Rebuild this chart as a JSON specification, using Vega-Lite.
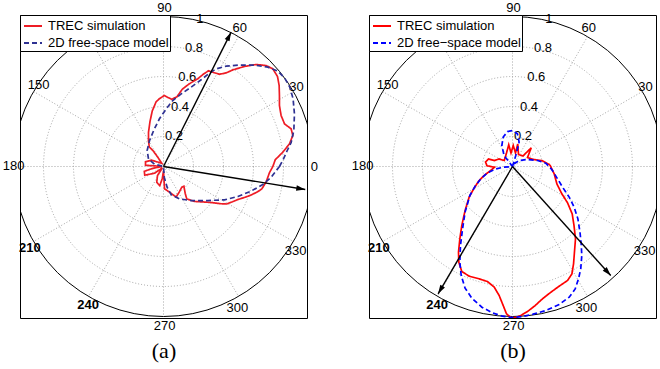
{
"$schema": "https://vega.github.io/schema/vega-lite/v6.json",
"padding": {"left": 2, "top": 1, "right": 5, "bottom": 5},
"background": "white",
"bounds": "flush",
"spacing": 62,
"config": {
  "view": {"stroke": "black", "strokeWidth": 1},
  "font": "Liberation Sans",
  "axisX": {"domain": false, "ticks": false, "labels": false, "grid": false, "titleFont": "Liberation Serif", "titleFontSize": 22, "titleFontWeight": "normal", "titlePadding": 22, "titleColor": "black"},
  "legend": {"orient": "top-left", "offset": 0, "padding": 1, "symbolOffset": 2, "fillColor": "white", "strokeColor": "black", "labelFont": "Liberation Sans", "labelFontSize": 13, "labelColor": "black", "symbolType": "stroke", "symbolSize": 324, "symbolStrokeWidth": 1.8, "rowPadding": -1, "labelOffset": 5}
},
"datasets": {
  "rings": [{"r": 0.2, "cx": 0, "cy": 0}, {"r": 0.4, "cx": 0, "cy": 0}, {"r": 0.6, "cx": 0, "cy": 0}, {"r": 0.8, "cx": 0, "cy": 0}, {"r": 1, "cx": 0, "cy": 0}],
  "spokes": [
    {"x": 1, "y": 0, "x2": -1, "y2": 0},
    {"x": 0.866, "y": 0.5, "x2": -0.866, "y2": -0.5},
    {"x": 0.5, "y": 0.866, "x2": -0.5, "y2": -0.866},
    {"x": 0, "y": 1, "x2": 0, "y2": -1},
    {"x": -0.5, "y": 0.866, "x2": 0.5, "y2": -0.866},
    {"x": -0.866, "y": 0.5, "x2": 0.866, "y2": -0.5}
  ],
  "alabels": [
    {"t": "0", "x": 1.005, "y": 0.0},
    {"t": "30", "x": 0.887, "y": 0.532},
    {"t": "60", "x": 0.509, "y": 0.923},
    {"t": "90", "x": 0.007, "y": 1.055},
    {"t": "150", "x": -0.833, "y": 0.545},
    {"t": "180", "x": -0.999, "y": 0.005},
    {"t": "210", "x": -0.891, "y": -0.541},
    {"t": "240", "x": -0.502, "y": -0.922},
    {"t": "270", "x": 0.007, "y": -1.06},
    {"t": "300", "x": 0.492, "y": -0.941},
    {"t": "330", "x": 0.881, "y": -0.564}
  ],
  "rlabels": [
    {"t": "0.2", "x": 0.07, "y": 0.205},
    {"t": "0.4", "x": 0.11, "y": 0.4},
    {"t": "0.6", "x": 0.158, "y": 0.596},
    {"t": "0.8", "x": 0.203, "y": 0.792},
    {"t": "1", "x": 0.242, "y": 0.985}
  ],
  "arrowsA": [
    {"ang": 63.3, "x0": 0, "y0": 0, "x": 0.451, "y": 0.896, "hx": 0.4375, "hy": 0.869},
    {"ang": -9.2, "x0": 0, "y0": 0, "x": 0.945, "y": -0.153, "hx": 0.9154, "hy": -0.1482}
  ],
  "arrowsB": [
    {"ang": 239.7, "x0": 0, "y0": 0, "x": -0.496, "y": -0.849, "hx": -0.4809, "hy": -0.8231},
    {"ang": 312, "x0": 0, "y0": 0, "x": 0.655, "y": -0.727, "hx": 0.6349, "hy": -0.7047}
  ],
  "curvesA": [
    {"s": "TREC simulation", "i": 0, "x": 0.729, "y": 0.0},
    {"s": "TREC simulation", "i": 1, "x": 0.745, "y": 0.045},
    {"s": "TREC simulation", "i": 2, "x": 0.796, "y": 0.096},
    {"s": "TREC simulation", "i": 3, "x": 0.84, "y": 0.151},
    {"s": "TREC simulation", "i": 4, "x": 0.862, "y": 0.207},
    {"s": "TREC simulation", "i": 5, "x": 0.851, "y": 0.251},
    {"s": "TREC simulation", "i": 6, "x": 0.807, "y": 0.284},
    {"s": "TREC simulation", "i": 7, "x": 0.784, "y": 0.34},
    {"s": "TREC simulation", "i": 8, "x": 0.773, "y": 0.407},
    {"s": "TREC simulation", "i": 9, "x": 0.773, "y": 0.47},
    {"s": "TREC simulation", "i": 10, "x": 0.771, "y": 0.54},
    {"s": "TREC simulation", "i": 11, "x": 0.76, "y": 0.6},
    {"s": "TREC simulation", "i": 12, "x": 0.729, "y": 0.651},
    {"s": "TREC simulation", "i": 13, "x": 0.684, "y": 0.673},
    {"s": "TREC simulation", "i": 14, "x": 0.618, "y": 0.68},
    {"s": "TREC simulation", "i": 15, "x": 0.54, "y": 0.667},
    {"s": "TREC simulation", "i": 16, "x": 0.462, "y": 0.644},
    {"s": "TREC simulation", "i": 17, "x": 0.418, "y": 0.624},
    {"s": "TREC simulation", "i": 18, "x": 0.373, "y": 0.615},
    {"s": "TREC simulation", "i": 19, "x": 0.33, "y": 0.628},
    {"s": "TREC simulation", "i": 20, "x": 0.3, "y": 0.638},
    {"s": "TREC simulation", "i": 21, "x": 0.265, "y": 0.615},
    {"s": "TREC simulation", "i": 22, "x": 0.229, "y": 0.585},
    {"s": "TREC simulation", "i": 23, "x": 0.17, "y": 0.55},
    {"s": "TREC simulation", "i": 24, "x": 0.125, "y": 0.515},
    {"s": "TREC simulation", "i": 25, "x": 0.09, "y": 0.465},
    {"s": "TREC simulation", "i": 26, "x": 0.055, "y": 0.448},
    {"s": "TREC simulation", "i": 27, "x": 0.02, "y": 0.465},
    {"s": "TREC simulation", "i": 28, "x": 0.005, "y": 0.473},
    {"s": "TREC simulation", "i": 29, "x": -0.03, "y": 0.45},
    {"s": "TREC simulation", "i": 30, "x": -0.05, "y": 0.43},
    {"s": "TREC simulation", "i": 31, "x": -0.075, "y": 0.37},
    {"s": "TREC simulation", "i": 32, "x": -0.09, "y": 0.3},
    {"s": "TREC simulation", "i": 33, "x": -0.1, "y": 0.229},
    {"s": "TREC simulation", "i": 34, "x": -0.1, "y": 0.173},
    {"s": "TREC simulation", "i": 35, "x": -0.095, "y": 0.13},
    {"s": "TREC simulation", "i": 36, "x": -0.071, "y": 0.107},
    {"s": "TREC simulation", "i": 37, "x": -0.038, "y": 0.062},
    {"s": "TREC simulation", "i": 38, "x": -0.012, "y": 0.022},
    {"s": "TREC simulation", "i": 39, "x": -0.08, "y": 0.042},
    {"s": "TREC simulation", "i": 40, "x": -0.12, "y": 0.032},
    {"s": "TREC simulation", "i": 41, "x": -0.12, "y": 0.008},
    {"s": "TREC simulation", "i": 42, "x": -0.07, "y": 0.005},
    {"s": "TREC simulation", "i": 43, "x": -0.01, "y": 0.0},
    {"s": "TREC simulation", "i": 44, "x": -0.07, "y": -0.012},
    {"s": "TREC simulation", "i": 45, "x": -0.128, "y": -0.032},
    {"s": "TREC simulation", "i": 46, "x": -0.125, "y": -0.058},
    {"s": "TREC simulation", "i": 47, "x": -0.06, "y": -0.045},
    {"s": "TREC simulation", "i": 48, "x": -0.008, "y": -0.01},
    {"s": "TREC simulation", "i": 49, "x": -0.04, "y": -0.06},
    {"s": "TREC simulation", "i": 50, "x": -0.045, "y": -0.105},
    {"s": "TREC simulation", "i": 51, "x": -0.025, "y": -0.128},
    {"s": "TREC simulation", "i": 52, "x": -0.008, "y": -0.08},
    {"s": "TREC simulation", "i": 53, "x": 0.0, "y": -0.03},
    {"s": "TREC simulation", "i": 54, "x": 0.004, "y": -0.1},
    {"s": "TREC simulation", "i": 55, "x": 0.007, "y": -0.149},
    {"s": "TREC simulation", "i": 56, "x": 0.04, "y": -0.171},
    {"s": "TREC simulation", "i": 57, "x": 0.084, "y": -0.204},
    {"s": "TREC simulation", "i": 58, "x": 0.105, "y": -0.17},
    {"s": "TREC simulation", "i": 59, "x": 0.122, "y": -0.138},
    {"s": "TREC simulation", "i": 60, "x": 0.136, "y": -0.131},
    {"s": "TREC simulation", "i": 61, "x": 0.145, "y": -0.18},
    {"s": "TREC simulation", "i": 62, "x": 0.155, "y": -0.216},
    {"s": "TREC simulation", "i": 63, "x": 0.207, "y": -0.233},
    {"s": "TREC simulation", "i": 64, "x": 0.26, "y": -0.236},
    {"s": "TREC simulation", "i": 65, "x": 0.318, "y": -0.24},
    {"s": "TREC simulation", "i": 66, "x": 0.38, "y": -0.248},
    {"s": "TREC simulation", "i": 67, "x": 0.42, "y": -0.25},
    {"s": "TREC simulation", "i": 68, "x": 0.46, "y": -0.235},
    {"s": "TREC simulation", "i": 69, "x": 0.496, "y": -0.22},
    {"s": "TREC simulation", "i": 70, "x": 0.545, "y": -0.205},
    {"s": "TREC simulation", "i": 71, "x": 0.584, "y": -0.19},
    {"s": "TREC simulation", "i": 72, "x": 0.625, "y": -0.17},
    {"s": "TREC simulation", "i": 73, "x": 0.655, "y": -0.15},
    {"s": "TREC simulation", "i": 74, "x": 0.684, "y": -0.104},
    {"s": "TREC simulation", "i": 75, "x": 0.707, "y": -0.04},
    {"s": "TREC simulation", "i": 76, "x": 0.729, "y": 0.0},
    {"s": "2D free-space model", "i": 0, "x": 0.773, "y": 0.0},
    {"s": "2D free-space model", "i": 1, "x": 0.8, "y": 0.05},
    {"s": "2D free-space model", "i": 2, "x": 0.822, "y": 0.1},
    {"s": "2D free-space model", "i": 3, "x": 0.851, "y": 0.16},
    {"s": "2D free-space model", "i": 4, "x": 0.869, "y": 0.24},
    {"s": "2D free-space model", "i": 5, "x": 0.873, "y": 0.351},
    {"s": "2D free-space model", "i": 6, "x": 0.864, "y": 0.451},
    {"s": "2D free-space model", "i": 7, "x": 0.842, "y": 0.529},
    {"s": "2D free-space model", "i": 8, "x": 0.807, "y": 0.591},
    {"s": "2D free-space model", "i": 9, "x": 0.762, "y": 0.636},
    {"s": "2D free-space model", "i": 10, "x": 0.696, "y": 0.662},
    {"s": "2D free-space model", "i": 11, "x": 0.607, "y": 0.676},
    {"s": "2D free-space model", "i": 12, "x": 0.496, "y": 0.676},
    {"s": "2D free-space model", "i": 13, "x": 0.418, "y": 0.669},
    {"s": "2D free-space model", "i": 14, "x": 0.351, "y": 0.651},
    {"s": "2D free-space model", "i": 15, "x": 0.3, "y": 0.618},
    {"s": "2D free-space model", "i": 16, "x": 0.251, "y": 0.578},
    {"s": "2D free-space model", "i": 17, "x": 0.184, "y": 0.529},
    {"s": "2D free-space model", "i": 18, "x": 0.118, "y": 0.484},
    {"s": "2D free-space model", "i": 19, "x": 0.062, "y": 0.44},
    {"s": "2D free-space model", "i": 20, "x": 0.018, "y": 0.384},
    {"s": "2D free-space model", "i": 21, "x": -0.027, "y": 0.318},
    {"s": "2D free-space model", "i": 22, "x": -0.064, "y": 0.244},
    {"s": "2D free-space model", "i": 23, "x": -0.093, "y": 0.173},
    {"s": "2D free-space model", "i": 24, "x": -0.109, "y": 0.107},
    {"s": "2D free-space model", "i": 25, "x": -0.1, "y": 0.051},
    {"s": "2D free-space model", "i": 26, "x": -0.06, "y": 0.015},
    {"s": "2D free-space model", "i": 27, "x": 0.0, "y": 0.0},
    {"s": "2D free-space model", "i": 28, "x": 0.005, "y": -0.071},
    {"s": "2D free-space model", "i": 29, "x": 0.024, "y": -0.138},
    {"s": "2D free-space model", "i": 30, "x": 0.051, "y": -0.187},
    {"s": "2D free-space model", "i": 31, "x": 0.107, "y": -0.216},
    {"s": "2D free-space model", "i": 32, "x": 0.184, "y": -0.227},
    {"s": "2D free-space model", "i": 33, "x": 0.296, "y": -0.227},
    {"s": "2D free-space model", "i": 34, "x": 0.407, "y": -0.222},
    {"s": "2D free-space model", "i": 35, "x": 0.496, "y": -0.2},
    {"s": "2D free-space model", "i": 36, "x": 0.584, "y": -0.164},
    {"s": "2D free-space model", "i": 37, "x": 0.662, "y": -0.12},
    {"s": "2D free-space model", "i": 38, "x": 0.718, "y": -0.071},
    {"s": "2D free-space model", "i": 39, "x": 0.773, "y": 0.0}
  ],
  "curvesB": [
    {"s": "TREC simulation", "i": 0, "x": 0.249, "y": 0.011},
    {"s": "TREC simulation", "i": 1, "x": 0.2, "y": 0.038},
    {"s": "TREC simulation", "i": 2, "x": 0.138, "y": 0.047},
    {"s": "TREC simulation", "i": 3, "x": 0.1, "y": 0.06},
    {"s": "TREC simulation", "i": 4, "x": 0.125, "y": 0.125},
    {"s": "TREC simulation", "i": 5, "x": 0.07, "y": 0.07},
    {"s": "TREC simulation", "i": 6, "x": 0.04, "y": 0.08},
    {"s": "TREC simulation", "i": 7, "x": 0.035, "y": 0.15},
    {"s": "TREC simulation", "i": 8, "x": 0.02, "y": 0.09},
    {"s": "TREC simulation", "i": 9, "x": 0.005, "y": 0.14},
    {"s": "TREC simulation", "i": 10, "x": -0.01, "y": 0.09},
    {"s": "TREC simulation", "i": 11, "x": -0.025, "y": 0.145},
    {"s": "TREC simulation", "i": 12, "x": -0.04, "y": 0.09},
    {"s": "TREC simulation", "i": 13, "x": -0.055, "y": 0.04},
    {"s": "TREC simulation", "i": 14, "x": -0.09, "y": 0.05},
    {"s": "TREC simulation", "i": 15, "x": -0.12, "y": 0.04},
    {"s": "TREC simulation", "i": 16, "x": -0.16, "y": 0.05},
    {"s": "TREC simulation", "i": 17, "x": -0.18, "y": 0.03},
    {"s": "TREC simulation", "i": 18, "x": -0.17, "y": 0.005},
    {"s": "TREC simulation", "i": 19, "x": -0.12, "y": -0.005},
    {"s": "TREC simulation", "i": 20, "x": -0.15, "y": -0.03},
    {"s": "TREC simulation", "i": 21, "x": -0.189, "y": -0.06},
    {"s": "TREC simulation", "i": 22, "x": -0.222, "y": -0.093},
    {"s": "TREC simulation", "i": 23, "x": -0.256, "y": -0.144},
    {"s": "TREC simulation", "i": 24, "x": -0.289, "y": -0.204},
    {"s": "TREC simulation", "i": 25, "x": -0.316, "y": -0.293},
    {"s": "TREC simulation", "i": 26, "x": -0.338, "y": -0.393},
    {"s": "TREC simulation", "i": 27, "x": -0.351, "y": -0.482},
    {"s": "TREC simulation", "i": 28, "x": -0.36, "y": -0.571},
    {"s": "TREC simulation", "i": 29, "x": -0.358, "y": -0.638},
    {"s": "TREC simulation", "i": 30, "x": -0.338, "y": -0.7},
    {"s": "TREC simulation", "i": 31, "x": -0.289, "y": -0.731},
    {"s": "TREC simulation", "i": 32, "x": -0.222, "y": -0.749},
    {"s": "TREC simulation", "i": 33, "x": -0.167, "y": -0.767},
    {"s": "TREC simulation", "i": 34, "x": -0.122, "y": -0.804},
    {"s": "TREC simulation", "i": 35, "x": -0.089, "y": -0.86},
    {"s": "TREC simulation", "i": 36, "x": -0.062, "y": -0.927},
    {"s": "TREC simulation", "i": 37, "x": -0.04, "y": -0.982},
    {"s": "TREC simulation", "i": 38, "x": -0.011, "y": -1.007},
    {"s": "TREC simulation", "i": 39, "x": 0.022, "y": -1.007},
    {"s": "TREC simulation", "i": 40, "x": 0.056, "y": -0.993},
    {"s": "TREC simulation", "i": 41, "x": 0.1, "y": -0.967},
    {"s": "TREC simulation", "i": 42, "x": 0.151, "y": -0.927},
    {"s": "TREC simulation", "i": 43, "x": 0.2, "y": -0.882},
    {"s": "TREC simulation", "i": 44, "x": 0.256, "y": -0.838},
    {"s": "TREC simulation", "i": 45, "x": 0.311, "y": -0.798},
    {"s": "TREC simulation", "i": 46, "x": 0.367, "y": -0.76},
    {"s": "TREC simulation", "i": 47, "x": 0.396, "y": -0.716},
    {"s": "TREC simulation", "i": 48, "x": 0.407, "y": -0.649},
    {"s": "TREC simulation", "i": 49, "x": 0.413, "y": -0.571},
    {"s": "TREC simulation", "i": 50, "x": 0.42, "y": -0.482},
    {"s": "TREC simulation", "i": 51, "x": 0.41, "y": -0.393},
    {"s": "TREC simulation", "i": 52, "x": 0.398, "y": -0.316},
    {"s": "TREC simulation", "i": 53, "x": 0.367, "y": -0.242},
    {"s": "TREC simulation", "i": 54, "x": 0.329, "y": -0.182},
    {"s": "TREC simulation", "i": 55, "x": 0.296, "y": -0.116},
    {"s": "TREC simulation", "i": 56, "x": 0.278, "y": -0.049},
    {"s": "TREC simulation", "i": 57, "x": 0.249, "y": 0.011},
    {"s": "2D free−space model", "i": 0, "x": 0.0, "y": 0.0},
    {"s": "2D free−space model", "i": 1, "x": 0.022, "y": 0.073},
    {"s": "2D free−space model", "i": 2, "x": 0.044, "y": 0.162},
    {"s": "2D free−space model", "i": 3, "x": 0.033, "y": 0.218},
    {"s": "2D free−space model", "i": 4, "x": 0.0, "y": 0.24},
    {"s": "2D free−space model", "i": 5, "x": -0.033, "y": 0.233},
    {"s": "2D free−space model", "i": 6, "x": -0.062, "y": 0.196},
    {"s": "2D free−space model", "i": 7, "x": -0.071, "y": 0.14},
    {"s": "2D free−space model", "i": 8, "x": -0.056, "y": 0.073},
    {"s": "2D free−space model", "i": 9, "x": -0.022, "y": 0.029},
    {"s": "2D free−space model", "i": 10, "x": 0.0, "y": 0.0},
    {"s": "2D free−space model", "i": 11, "x": -0.06, "y": -0.005},
    {"s": "2D free−space model", "i": 12, "x": -0.111, "y": -0.016},
    {"s": "2D free−space model", "i": 13, "x": -0.167, "y": -0.042},
    {"s": "2D free−space model", "i": 14, "x": -0.211, "y": -0.082},
    {"s": "2D free−space model", "i": 15, "x": -0.249, "y": -0.131},
    {"s": "2D free−space model", "i": 16, "x": -0.284, "y": -0.193},
    {"s": "2D free−space model", "i": 17, "x": -0.316, "y": -0.304},
    {"s": "2D free−space model", "i": 18, "x": -0.333, "y": -0.416},
    {"s": "2D free−space model", "i": 19, "x": -0.347, "y": -0.527},
    {"s": "2D free−space model", "i": 20, "x": -0.351, "y": -0.638},
    {"s": "2D free−space model", "i": 21, "x": -0.342, "y": -0.727},
    {"s": "2D free−space model", "i": 22, "x": -0.316, "y": -0.811},
    {"s": "2D free−space model", "i": 23, "x": -0.271, "y": -0.878},
    {"s": "2D free−space model", "i": 24, "x": -0.204, "y": -0.938},
    {"s": "2D free−space model", "i": 25, "x": -0.133, "y": -0.976},
    {"s": "2D free−space model", "i": 26, "x": -0.067, "y": -0.998},
    {"s": "2D free−space model", "i": 27, "x": 0.0, "y": -1.007},
    {"s": "2D free−space model", "i": 28, "x": 0.067, "y": -1.0},
    {"s": "2D free−space model", "i": 29, "x": 0.138, "y": -0.984},
    {"s": "2D free−space model", "i": 30, "x": 0.222, "y": -0.96},
    {"s": "2D free−space model", "i": 31, "x": 0.311, "y": -0.92},
    {"s": "2D free−space model", "i": 32, "x": 0.378, "y": -0.871},
    {"s": "2D free−space model", "i": 33, "x": 0.418, "y": -0.816},
    {"s": "2D free−space model", "i": 34, "x": 0.44, "y": -0.749},
    {"s": "2D free−space model", "i": 35, "x": 0.455, "y": -0.682},
    {"s": "2D free−space model", "i": 36, "x": 0.462, "y": -0.593},
    {"s": "2D free−space model", "i": 37, "x": 0.458, "y": -0.516},
    {"s": "2D free−space model", "i": 38, "x": 0.45, "y": -0.438},
    {"s": "2D free−space model", "i": 39, "x": 0.436, "y": -0.349},
    {"s": "2D free−space model", "i": 40, "x": 0.411, "y": -0.271},
    {"s": "2D free−space model", "i": 41, "x": 0.378, "y": -0.204},
    {"s": "2D free−space model", "i": 42, "x": 0.338, "y": -0.144},
    {"s": "2D free−space model", "i": 43, "x": 0.3, "y": -0.082},
    {"s": "2D free−space model", "i": 44, "x": 0.262, "y": -0.02},
    {"s": "2D free−space model", "i": 45, "x": 0.222, "y": 0.022},
    {"s": "2D free−space model", "i": 46, "x": 0.167, "y": 0.04},
    {"s": "2D free−space model", "i": 47, "x": 0.1, "y": 0.047},
    {"s": "2D free−space model", "i": 48, "x": 0.044, "y": 0.04},
    {"s": "2D free−space model", "i": 49, "x": 0.011, "y": 0.018},
    {"s": "2D free−space model", "i": 50, "x": 0.0, "y": 0.0}
  ]
},
"resolve": {
  "scale": {"color": "independent", "strokeDash": "independent"}
},
"hconcat": [
  {
    "width": 287, "height": 303,
    "layer": [
      {"data": {"name": "rings"}, "transform": [{"filter": "datum.r < 1"}],
       "mark": {"type": "point", "shape": "circle", "filled": false, "stroke": "#9a9a9a", "strokeWidth": 0.9, "strokeDash": [1, 2], "opacity": 1, "clip": true},
       "encoding": {
         "x": {"field": "cx", "type": "quantitative", "scale": {"domain": [-0.9567, 0.9567], "nice": false, "zero": false}, "title": "(a)"},
         "y": {"field": "cy", "type": "quantitative", "scale": {"domain": [-1.01, 1.01], "nice": false, "zero": false}, "axis": null},
         "size": {"field": "r", "type": "quantitative", "scale": {"type": "pow", "exponent": 2, "domain": [0, 1.01], "range": [0, 91809], "zero": true}, "legend": null}}},
      {"data": {"name": "rings"}, "transform": [{"filter": "datum.r == 1"}],
       "mark": {"type": "point", "shape": "circle", "filled": false, "stroke": "black", "strokeWidth": 1, "opacity": 1, "clip": true},
       "encoding": {
         "x": {"field": "cx", "type": "quantitative", "scale": {"domain": [-0.9567, 0.9567], "nice": false, "zero": false}, "title": "(a)"},
         "y": {"field": "cy", "type": "quantitative", "scale": {"domain": [-1.01, 1.01], "nice": false, "zero": false}, "axis": null},
         "size": {"field": "r", "type": "quantitative", "scale": {"type": "pow", "exponent": 2, "domain": [0, 1.01], "range": [0, 91809], "zero": true}, "legend": null}}},
      {"data": {"name": "spokes"},
       "mark": {"type": "rule", "stroke": "#9a9a9a", "strokeWidth": 0.9, "strokeDash": [1, 2], "clip": true},
       "encoding": {
         "x": {"field": "x", "type": "quantitative", "scale": {"domain": [-0.9567, 0.9567], "nice": false, "zero": false}, "title": "(a)"},
         "y": {"field": "y", "type": "quantitative", "scale": {"domain": [-1.01, 1.01], "nice": false, "zero": false}, "axis": null},
         "x2": {"field": "x2"}, "y2": {"field": "y2"}}},
      {"data": {"name": "alabels"}, "transform": [{"filter": "datum.t != '210' && datum.t != '240'"}],
       "mark": {"type": "text", "font": "Liberation Sans", "fontSize": 13, "color": "black", "align": "center", "baseline": "middle"},
       "encoding": {
         "x": {"field": "x", "type": "quantitative", "scale": {"domain": [-0.9567, 0.9567], "nice": false, "zero": false}, "title": "(a)"},
         "y": {"field": "y", "type": "quantitative", "scale": {"domain": [-1.01, 1.01], "nice": false, "zero": false}, "axis": null},
         "text": {"field": "t", "type": "nominal"}}},
      {"data": {"name": "alabels"}, "transform": [{"filter": "datum.t == '210' || datum.t == '240'"}],
       "mark": {"type": "text", "font": "Liberation Sans", "fontSize": 13, "fontWeight": "bold", "color": "black", "align": "center", "baseline": "middle"},
       "encoding": {
         "x": {"field": "x", "type": "quantitative", "scale": {"domain": [-0.9567, 0.9567], "nice": false, "zero": false}, "title": "(a)"},
         "y": {"field": "y", "type": "quantitative", "scale": {"domain": [-1.01, 1.01], "nice": false, "zero": false}, "axis": null},
         "text": {"field": "t", "type": "nominal"}}},
      {"data": {"name": "rlabels"},
       "mark": {"type": "text", "font": "Liberation Sans", "fontSize": 13, "color": "black", "align": "center", "baseline": "middle"},
       "encoding": {
         "x": {"field": "x", "type": "quantitative", "scale": {"domain": [-0.9567, 0.9567], "nice": false, "zero": false}, "title": "(a)"},
         "y": {"field": "y", "type": "quantitative", "scale": {"domain": [-1.01, 1.01], "nice": false, "zero": false}, "axis": null},
         "text": {"field": "t", "type": "nominal"}}},
      {"data": {"name": "curvesA"},
       "mark": {"type": "line", "strokeWidth": 1.7, "clip": true},
       "encoding": {
         "x": {"field": "x", "type": "quantitative", "scale": {"domain": [-0.9567, 0.9567], "nice": false, "zero": false}, "title": "(a)"},
         "y": {"field": "y", "type": "quantitative", "scale": {"domain": [-1.01, 1.01], "nice": false, "zero": false}, "axis": null},
         "order": {"field": "i", "type": "quantitative"},
         "color": {"field": "s", "type": "nominal", "scale": {"domain": ["TREC simulation", "2D free-space model"], "range": ["#ee1c25", "#2e3192"]}, "legend": {"title": null}},
         "strokeDash": {"field": "s", "type": "nominal", "scale": {"domain": ["TREC simulation", "2D free-space model"], "range": [[1, 0], [5, 3]]}, "legend": {"title": null}}}},
      {"data": {"name": "arrowsA"},
       "mark": {"type": "rule", "color": "black", "strokeWidth": 1.4},
       "encoding": {
         "x": {"field": "x0", "type": "quantitative", "scale": {"domain": [-0.9567, 0.9567], "nice": false, "zero": false}, "title": "(a)"},
         "y": {"field": "y0", "type": "quantitative", "scale": {"domain": [-1.01, 1.01], "nice": false, "zero": false}, "axis": null},
         "x2": {"field": "x"}, "y2": {"field": "y"}}},
      {"data": {"name": "arrowsA"},
       "mark": {"type": "point", "shape": "M0,-1L0.6,1L-0.6,1Z", "filled": true, "color": "black", "size": 80, "opacity": 1},
       "encoding": {
         "x": {"field": "hx", "type": "quantitative", "scale": {"domain": [-0.9567, 0.9567], "nice": false, "zero": false}, "title": "(a)"},
         "y": {"field": "hy", "type": "quantitative", "scale": {"domain": [-1.01, 1.01], "nice": false, "zero": false}, "axis": null},
         "angle": {"field": "ang", "type": "quantitative", "scale": {"domain": [0, 360], "range": [90, -270]}}}}
    ]
  },
  {
    "width": 287, "height": 303,
    "layer": [
      {"data": {"name": "rings"}, "transform": [{"filter": "datum.r < 1"}],
       "mark": {"type": "point", "shape": "circle", "filled": false, "stroke": "#9a9a9a", "strokeWidth": 0.9, "strokeDash": [1, 2], "opacity": 1, "clip": true},
       "encoding": {
         "x": {"field": "cx", "type": "quantitative", "scale": {"domain": [-0.9567, 0.9567], "nice": false, "zero": false}, "title": "(b)"},
         "y": {"field": "cy", "type": "quantitative", "scale": {"domain": [-1.01, 1.01], "nice": false, "zero": false}, "axis": null},
         "size": {"field": "r", "type": "quantitative", "scale": {"type": "pow", "exponent": 2, "domain": [0, 1.01], "range": [0, 91809], "zero": true}, "legend": null}}},
      {"data": {"name": "rings"}, "transform": [{"filter": "datum.r == 1"}],
       "mark": {"type": "point", "shape": "circle", "filled": false, "stroke": "black", "strokeWidth": 1, "opacity": 1, "clip": true},
       "encoding": {
         "x": {"field": "cx", "type": "quantitative", "scale": {"domain": [-0.9567, 0.9567], "nice": false, "zero": false}, "title": "(b)"},
         "y": {"field": "cy", "type": "quantitative", "scale": {"domain": [-1.01, 1.01], "nice": false, "zero": false}, "axis": null},
         "size": {"field": "r", "type": "quantitative", "scale": {"type": "pow", "exponent": 2, "domain": [0, 1.01], "range": [0, 91809], "zero": true}, "legend": null}}},
      {"data": {"name": "spokes"},
       "mark": {"type": "rule", "stroke": "#9a9a9a", "strokeWidth": 0.9, "strokeDash": [1, 2], "clip": true},
       "encoding": {
         "x": {"field": "x", "type": "quantitative", "scale": {"domain": [-0.9567, 0.9567], "nice": false, "zero": false}, "title": "(b)"},
         "y": {"field": "y", "type": "quantitative", "scale": {"domain": [-1.01, 1.01], "nice": false, "zero": false}, "axis": null},
         "x2": {"field": "x2"}, "y2": {"field": "y2"}}},
      {"data": {"name": "alabels"}, "transform": [{"filter": "datum.t != '210' && datum.t != '240' && datum.t != '0'"}],
       "mark": {"type": "text", "font": "Liberation Sans", "fontSize": 13, "color": "black", "align": "center", "baseline": "middle"},
       "encoding": {
         "x": {"field": "x", "type": "quantitative", "scale": {"domain": [-0.9567, 0.9567], "nice": false, "zero": false}, "title": "(b)"},
         "y": {"field": "y", "type": "quantitative", "scale": {"domain": [-1.01, 1.01], "nice": false, "zero": false}, "axis": null},
         "text": {"field": "t", "type": "nominal"}}},
      {"data": {"name": "alabels"}, "transform": [{"filter": "datum.t == '210' || datum.t == '240'"}],
       "mark": {"type": "text", "font": "Liberation Sans", "fontSize": 13, "fontWeight": "bold", "color": "black", "align": "center", "baseline": "middle"},
       "encoding": {
         "x": {"field": "x", "type": "quantitative", "scale": {"domain": [-0.9567, 0.9567], "nice": false, "zero": false}, "title": "(b)"},
         "y": {"field": "y", "type": "quantitative", "scale": {"domain": [-1.01, 1.01], "nice": false, "zero": false}, "axis": null},
         "text": {"field": "t", "type": "nominal"}}},
      {"data": {"name": "rlabels"},
       "mark": {"type": "text", "font": "Liberation Sans", "fontSize": 13, "color": "black", "align": "center", "baseline": "middle"},
       "encoding": {
         "x": {"field": "x", "type": "quantitative", "scale": {"domain": [-0.9567, 0.9567], "nice": false, "zero": false}, "title": "(b)"},
         "y": {"field": "y", "type": "quantitative", "scale": {"domain": [-1.01, 1.01], "nice": false, "zero": false}, "axis": null},
         "text": {"field": "t", "type": "nominal"}}},
      {"data": {"name": "curvesB"},
       "mark": {"type": "line", "strokeWidth": 1.7, "clip": true},
       "encoding": {
         "x": {"field": "x", "type": "quantitative", "scale": {"domain": [-0.9567, 0.9567], "nice": false, "zero": false}, "title": "(b)"},
         "y": {"field": "y", "type": "quantitative", "scale": {"domain": [-1.01, 1.01], "nice": false, "zero": false}, "axis": null},
         "order": {"field": "i", "type": "quantitative"},
         "color": {"field": "s", "type": "nominal", "scale": {"domain": ["TREC simulation", "2D free−space model"], "range": ["#ff0000", "#0000ff"]}, "legend": {"title": null}},
         "strokeDash": {"field": "s", "type": "nominal", "scale": {"domain": ["TREC simulation", "2D free−space model"], "range": [[1, 0], [5, 3]]}, "legend": {"title": null}}}},
      {"data": {"name": "arrowsB"},
       "mark": {"type": "rule", "color": "black", "strokeWidth": 1.4},
       "encoding": {
         "x": {"field": "x0", "type": "quantitative", "scale": {"domain": [-0.9567, 0.9567], "nice": false, "zero": false}, "title": "(b)"},
         "y": {"field": "y0", "type": "quantitative", "scale": {"domain": [-1.01, 1.01], "nice": false, "zero": false}, "axis": null},
         "x2": {"field": "x"}, "y2": {"field": "y"}}},
      {"data": {"name": "arrowsB"},
       "mark": {"type": "point", "shape": "M0,-1L0.6,1L-0.6,1Z", "filled": true, "color": "black", "size": 80, "opacity": 1},
       "encoding": {
         "x": {"field": "hx", "type": "quantitative", "scale": {"domain": [-0.9567, 0.9567], "nice": false, "zero": false}, "title": "(b)"},
         "y": {"field": "hy", "type": "quantitative", "scale": {"domain": [-1.01, 1.01], "nice": false, "zero": false}, "axis": null},
         "angle": {"field": "ang", "type": "quantitative", "scale": {"domain": [0, 360], "range": [90, -270]}}}}
    ]
  }
]
}
